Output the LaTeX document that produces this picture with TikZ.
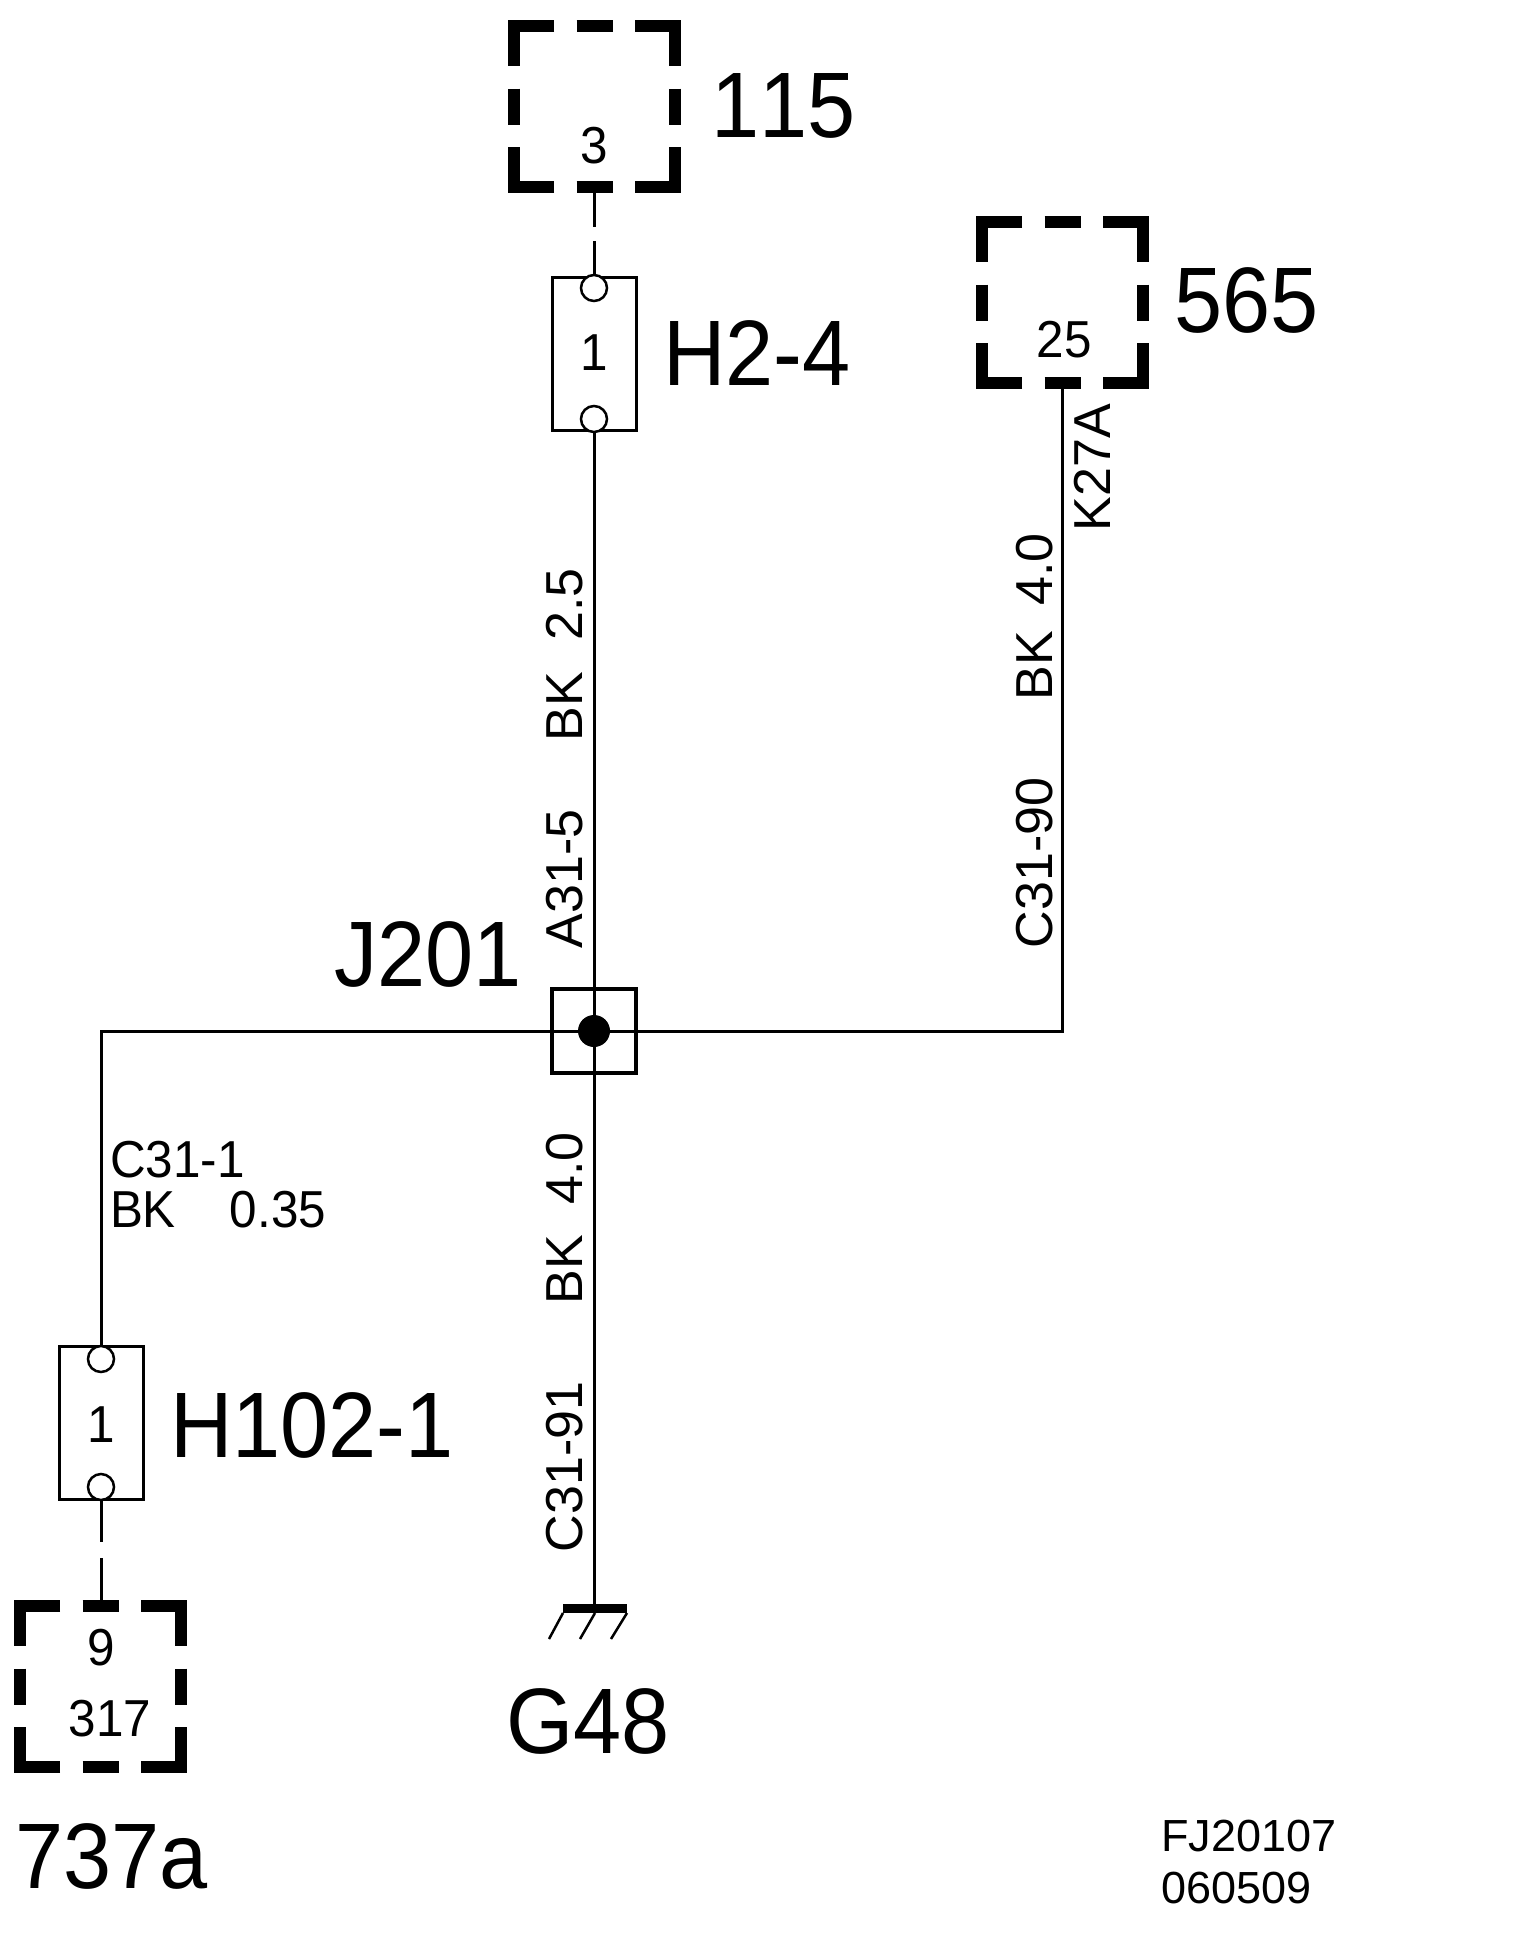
\documentclass[tikz,border=0pt]{standalone}
\usepackage{fontspec}
\setmainfont{Liberation Sans}
\newfontfamily\narrowbig[FakeStretch=0.93,Kerning=Off]{Liberation Sans}
\newfontfamily\narrowmid[FakeStretch=0.95]{Liberation Sans}
\newcommand{\dashedbox}[3]{%
  \node[hitbox] (#1) at (#2,#3) {};
  \begin{scope}[shift={(#2,#3)}]
    \draw[bar] (-40.5,-80.5) -- (-80.5,-80.5) -- (-80.5,-40.5);
    \draw[bar] (40.5,-80.5) -- (80.5,-80.5) -- (80.5,-40.5);
    \draw[bar] (-40.5,80.5) -- (-80.5,80.5) -- (-80.5,40.5);
    \draw[bar] (40.5,80.5) -- (80.5,80.5) -- (80.5,40.5);
    \draw[bar] (-18,-80.5) -- (18,-80.5);
    \draw[bar] (-18,80.5) -- (18,80.5);
    \draw[bar] (-80.5,-18) -- (-80.5,18);
    \draw[bar] (80.5,-18) -- (80.5,18);
  \end{scope}}
\begin{document}
\begin{tikzpicture}[x=1pt,y=-1pt,
  hitbox/.style={minimum size=173pt,inner sep=0pt,outer sep=0pt},
  bar/.style={line width=12pt,line cap=butt,line join=miter},
  wire/.style={line width=3pt,line cap=butt},
  gapwire/.style={wire,dash pattern=on 34pt off 14pt on 300pt},
  gapwirelow/.style={wire,dash pattern=on 42pt off 16pt on 300pt},
  conn/.style={draw,line width=3pt,minimum width=84pt,minimum height=153pt,inner sep=0pt,outer sep=0pt,fill=white},
  pin/.style={circle,draw,line width=2.5pt,fill=white,minimum size=26pt,inner sep=0pt,outer sep=0pt},
  big/.style={anchor=base west,inner sep=0pt,outer sep=0pt,font=\narrowbig\fontsize{93}{93}\selectfont},
  mid/.style={anchor=base west,inner sep=0pt,outer sep=0pt,font=\narrowmid\fontsize{52}{52}\selectfont},
  digit/.style={anchor=center,inner sep=0pt,outer sep=0pt,font=\narrowmid\fontsize{52}{52}\selectfont},
  vert/.style={anchor=base west,inner sep=0pt,outer sep=0pt,rotate=90,font=\fontsize{52}{52}\selectfont},
  note/.style={anchor=base west,inner sep=0pt,outer sep=0pt,font=\fontsize{45}{45}\selectfont}]
\useasboundingbox (0,0) rectangle (1520,1944);
\fill[white] (0,0) rectangle (1520,1944);

% connector bodies
\node[conn] (h24) at (594,353.5) {};
\node[conn] (h102) at (101,1422.5) {};
\node[draw,line width=4pt,minimum size=84pt,inner sep=0pt,outer sep=0pt] (j201) at (594,1031) {};

% pins
\node[pin] (h24a) at (594,288) {};
\node[pin] (h24b) at (594,419) {};
\node[pin] (h102a) at (101,1359) {};
\node[pin] (h102b) at (101,1487) {};

% boxes
\dashedbox{b115}{594.5}{106.5}
\dashedbox{b565}{1062.5}{302.5}
\dashedbox{b317}{100.5}{1686.5}

% splice and ground
\node[circle,fill=black,minimum size=32pt,inner sep=0pt,outer sep=0pt] (dot) at (594,1031) {};
\coordinate (gnd) at (594,1604);

% wires
\draw[gapwire] (b115.south -| h24a) -- (h24a.north);
\draw[wire] (h24b.south) -- (dot.north);
\draw[wire] (dot.south) -- (gnd);
\draw[wire] (dot.west) -| (h102a.north);
\draw[wire] (dot.east) -| (b565.south);
\draw[gapwirelow] (h102b.south) -- (b317.north -| h102b);

% ground symbol
\fill[black] (563,1604) rectangle (627,1613);
\draw[line width=2.5pt] (563,1613) -- (549,1639);
\draw[line width=2.5pt] (595,1613) -- (580,1639);
\draw[line width=2.5pt] (627,1613) -- (611,1639);

% digits
\node[digit] (t3) at (594,146) {3};
\node[digit] (t1a) at (594,353) {1};
\node[digit] (t25) at (1064,340) {25};
\node[digit] (t1b) at (101,1425) {1};
\node[digit] (t9) at (101,1648) {9};
\node[digit] (t317) at (110,1719) {317};

% big labels
\node[big] (l115) at (711,137) {115};
\node[big] (l565) at (1174,332) {565};
\node[big] (lh24) at (663,385) {H2-4};
\node[big] (lj) at (334,986) {J201};
\node[big] (lh102) at (170,1457) {H102-1};
\node[big] (lg) at (506,1753) {G48};
\node[big] (l737) at (15,1888) {737a};

% wire labels
\node[vert] (v1) at (582,741) {BK\hspace*{31pt}2.5};
\node[vert] (v2) at (582,948) {A31-5};
\node[vert] (v3) at (582,1304) {BK\hspace*{30pt}4.0};
\node[vert] (v4) at (582,1552) {C31-91};
\node[vert] (v5) at (1052,700) {BK\hspace*{25pt}4.0};
\node[vert] (v6) at (1052,948) {C31-90};
\node[vert] (v7) at (1110,531) {K27A};
\node[mid] (c1) at (110,1177) {C31-1};
\node[mid] (c2) at (110,1227) {BK\hspace*{54pt}0.35};

% drawing code
\node[note] (f1) at (1161,1851) {FJ20107};
\node[note] (f2) at (1161,1903) {060509};
\end{tikzpicture}
\end{document}
